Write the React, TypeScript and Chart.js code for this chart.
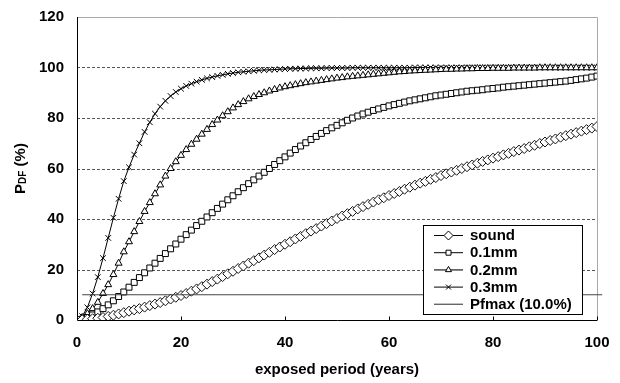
import React, { useEffect, useRef } from "react";
import { Chart, registerables } from "chart.js";

Chart.register(...registerables);

const years = [
  0, 1, 2, 3, 4, 5, 6, 7, 8, 9, 10, 11, 12, 13, 14, 15, 16, 17, 18, 19, 20,
  21, 22, 23, 24, 25, 26, 27, 28, 29, 30, 31, 32, 33, 34, 35, 36, 37, 38, 39, 40,
  41, 42, 43, 44, 45, 46, 47, 48, 49, 50, 51, 52, 53, 54, 55, 56, 57, 58, 59, 60,
  61, 62, 63, 64, 65, 66, 67, 68, 69, 70, 71, 72, 73, 74, 75, 76, 77, 78, 79, 80,
  81, 82, 83, 84, 85, 86, 87, 88, 89, 90, 91, 92, 93, 94, 95, 96, 97, 98, 99, 100,
];

const sound = [
  0, 0.1, 0.3, 0.5, 0.7, 1.0, 1.4, 1.9, 2.4, 2.9, 3.5,
  4.0, 4.5, 5.1, 5.7, 6.3, 6.9, 7.6, 8.3, 9.0, 9.7,
  10.5, 11.4, 12.3, 13.2, 14.2, 15.2, 16.2, 17.2, 18.3, 19.3,
  20.4, 21.4, 22.5, 23.5, 24.6, 25.7, 26.8, 27.9, 28.9, 30.0,
  31.0, 32.1, 33.1, 34.2, 35.2, 36.2, 37.2, 38.2, 39.2, 40.2,
  41.2, 42.1, 43.0, 44.0, 44.9, 45.8, 46.7, 47.6, 48.4, 49.3,
  50.1, 50.9, 51.8, 52.6, 53.4, 54.2, 54.9, 55.7, 56.4, 57.2,
  57.9, 58.6, 59.3, 60.0, 60.7, 61.4, 62.1, 62.8, 63.4, 64.1,
  64.7, 65.4, 66.0, 66.7, 67.3, 67.9, 68.6, 69.2, 69.9, 70.5,
  71.1, 71.7, 72.4, 73.0, 73.6, 74.2, 74.8, 75.4, 76.0, 76.6,
];

const mm01 = [
  0, 0.3, 1.0, 2.0, 3.2, 4.5, 6.0, 7.6, 9.3, 11.1, 13.0,
  14.9, 16.8, 18.7, 20.6, 22.5, 24.4, 26.3, 28.2, 30.1, 32.0,
  33.8, 35.6, 37.4, 39.1, 40.8, 42.5, 44.2, 45.9, 47.6, 49.2,
  50.8, 52.4, 54.0, 55.5, 57.0, 58.5, 60.0, 61.6, 63.1, 64.6,
  66.1, 67.5, 68.9, 70.2, 71.5, 72.7, 73.9, 75.0, 76.1, 77.1,
  78.1, 79.1, 80.0, 80.8, 81.6, 82.3, 83.0, 83.6, 84.2, 84.8,
  85.3, 85.8, 86.3, 86.8, 87.2, 87.6, 88.0, 88.4, 88.8, 89.1,
  89.4, 89.7, 90.0, 90.3, 90.6, 90.8, 91.0, 91.2, 91.5, 91.7,
  91.9, 92.2, 92.4, 92.6, 92.8, 93.0, 93.2, 93.4, 93.6, 93.8,
  94.0, 94.2, 94.4, 94.6, 94.9, 95.2, 95.5, 95.8, 96.2, 96.6,
];

const mm02 = [
  0, 1.0, 2.5, 4.5, 7.0, 10.5, 14.0, 18.0, 22.5, 27.0, 31.0,
  35.0, 39.0, 43.0, 46.5, 50.0, 53.5, 57.0, 60.0, 62.7, 65.2,
  67.5, 69.6, 71.6, 73.6, 75.5, 77.4, 79.2, 80.9, 82.5, 84.0,
  85.3, 86.5, 87.6, 88.5, 89.3, 90.0, 90.7, 91.3, 91.9, 92.4,
  92.8, 93.2, 93.6, 94.0, 94.3, 94.6, 94.9, 95.2, 95.5, 95.8,
  96.0, 96.3, 96.5, 96.7, 96.9, 97.1, 97.3, 97.5, 97.7, 97.9,
  98.1, 98.3, 98.4, 98.6, 98.7, 98.8, 98.9, 99.0, 99.1, 99.2,
  99.3, 99.3, 99.4, 99.4, 99.5, 99.5, 99.6, 99.6, 99.6, 99.7,
  99.7, 99.7, 99.7, 99.8, 99.8, 99.8, 99.8, 99.8, 99.9, 99.9,
  99.9, 99.9, 99.9, 99.9, 99.9, 99.9, 99.9, 99.9, 99.9, 99.9,
];

const mm03 = [
  0, 1.5, 5.0, 10.5, 17.0, 24.5, 32.5, 40.5, 48.0, 55.0, 60.5,
  65.5, 70.0, 74.5, 78.3, 81.7, 84.5, 86.8, 88.7, 90.3, 91.6,
  92.7, 93.6, 94.4, 95.1, 95.7, 96.2, 96.7, 97.1, 97.5, 97.8,
  98.1, 98.3, 98.5, 98.7, 98.9, 99.0, 99.1, 99.2, 99.3, 99.4,
  99.5, 99.5, 99.6, 99.6, 99.7, 99.7, 99.7, 99.8, 99.8, 99.8,
  99.8, 99.8, 99.9, 99.9, 99.9, 99.9, 99.9, 99.9, 99.9, 99.9,
  99.9, 99.9, 99.9, 99.9, 100, 100, 100, 100, 100, 100,
  100, 100, 100, 100, 100, 100, 100, 100, 100, 100,
  100, 100, 100, 100, 100, 100, 100, 100, 100, 100,
  100, 100, 100, 100, 100, 100, 100, 100, 100, 100,
];

const pfmaxX = [1, 101];
const pfmaxY = [10, 10];

const seriesLabels = ["sound", "0.1mm", "0.2mm", "0.3mm", "Pfmax (10.0%)"];
const xTicks = [0, 20, 40, 60, 80, 100];
const yTicks = [0, 20, 40, 60, 80, 100, 120];
const xTitle = "exposed period (years)";
const yTitleMain = "P";
const yTitleSub = "DF";
const yTitleRest = " (%)";

const FONT = '"Liberation Sans", Arial, sans-serif';

function drawMarker(ctx: CanvasRenderingContext2D, style: string, x: number, y: number) {
  ctx.save();
  ctx.lineWidth = 1;
  ctx.strokeStyle = "#000";
  ctx.fillStyle = "#fff";
  ctx.beginPath();
  if (style === "diamond") {
    const r = 4.5;
    ctx.moveTo(x, y - r);
    ctx.lineTo(x + r, y);
    ctx.lineTo(x, y + r);
    ctx.lineTo(x - r, y);
    ctx.closePath();
    ctx.fill();
    ctx.stroke();
  } else if (style === "square") {
    const h = 2.5;
    ctx.rect(x - h, y - h, 2 * h, 2 * h);
    ctx.fill();
    ctx.stroke();
  } else if (style === "triangle") {
    const r = 3.5;
    ctx.moveTo(x, y - r);
    ctx.lineTo(x + r * 0.866, y + r * 0.5);
    ctx.lineTo(x - r * 0.866, y + r * 0.5);
    ctx.closePath();
    ctx.fill();
    ctx.stroke();
  } else if (style === "cross") {
    const h = 2.5;
    ctx.moveTo(x - h, y - h);
    ctx.lineTo(x + h, y + h);
    ctx.moveTo(x + h, y - h);
    ctx.lineTo(x - h, y + h);
    ctx.stroke();
  }
  ctx.restore();
}

const framePlugin = {
  id: "framePlugin",
  beforeDatasetsDraw(chart: any) {
    const { ctx, chartArea, scales } = chart;
    const { left, right, top, bottom } = chartArea;
    ctx.save();
    ctx.strokeStyle = "#555";
    ctx.lineWidth = 1;
    ctx.setLineDash([3, 2]);
    yTicks.forEach((v) => {
      if (v === 0 || v === 120) return;
      const py = Math.round(scales.y.getPixelForValue(v)) + 0.5;
      ctx.beginPath();
      ctx.moveTo(left, py);
      ctx.lineTo(right, py);
      ctx.stroke();
    });
    ctx.setLineDash([]);
    ctx.strokeStyle = "#a8a8a8";
    ctx.beginPath();
    ctx.moveTo(left, Math.round(top) + 0.5);
    ctx.lineTo(Math.round(right) + 0.5, Math.round(top) + 0.5);
    ctx.lineTo(Math.round(right) + 0.5, bottom);
    ctx.stroke();

    // tick labels
    ctx.fillStyle = "#000";
    ctx.font = `bold 15px ${FONT}`;
    ctx.textBaseline = "middle";
    ctx.textAlign = "right";
    yTicks.forEach((v) => {
      ctx.fillText(String(v), left - 13, scales.y.getPixelForValue(v));
    });
    ctx.textAlign = "center";
    xTicks.forEach((v) => {
      ctx.fillText(String(v), scales.x.getPixelForValue(v), bottom + 23);
    });
    ctx.restore();
  },
  afterDatasetsDraw(chart: any) {
    const { ctx, chartArea, scales } = chart;
    const { left, right, top, bottom } = chartArea;
    ctx.save();
    ctx.strokeStyle = "#000";
    ctx.lineWidth = 1;
    ctx.beginPath();
    const lx = Math.round(left) + 0.5;
    const by = Math.round(bottom) + 0.5;
    ctx.moveTo(lx, top);
    ctx.lineTo(lx, by);
    ctx.lineTo(right, by);
    ctx.stroke();
    xTicks.forEach((v) => {
      if (v === 0) return;
      const px = Math.round(scales.x.getPixelForValue(v)) + 0.5;
      ctx.beginPath();
      ctx.moveTo(px, by);
      ctx.lineTo(px, by - 4);
      ctx.stroke();
    });

    // legend
    const bx = 423.5, byy = 225.5, bw = 159, bh = 89;
    ctx.fillStyle = "#fff";
    ctx.fillRect(bx, byy, bw, bh);
    ctx.strokeStyle = "#000";
    ctx.strokeRect(bx, byy, bw, bh);
    const styles = ["diamond", "square", "triangle", "cross", "none"];
    const lineColors = ["#000", "#000", "#555", "#000", "#666"];
    const lineWidths = [1, 1, 1.6, 1, 1.4];
    seriesLabels.forEach((lab, i) => {
      const yy = 235.5 + i * 17.2;
      ctx.strokeStyle = lineColors[i];
      ctx.lineWidth = lineWidths[i];
      ctx.beginPath();
      ctx.moveTo(434, yy);
      ctx.lineTo(463, yy);
      ctx.stroke();
      if (styles[i] !== "none") drawMarker(ctx, styles[i], 448.5, yy);
      ctx.fillStyle = "#000";
      ctx.font = `bold 15px ${FONT}`;
      ctx.textAlign = "left";
      ctx.textBaseline = "middle";
      ctx.fillText(lab, 470, yy + 0.5);
    });

    // x title
    ctx.fillStyle = "#000";
    ctx.font = `bold 15px ${FONT}`;
    ctx.textAlign = "center";
    ctx.textBaseline = "middle";
    ctx.fillText(xTitle, (left + right) / 2, 370);

    // y title with subscript
    ctx.save();
    ctx.translate(25, (top + bottom) / 2);
    ctx.rotate(-Math.PI / 2);
    ctx.textAlign = "left";
    ctx.textBaseline = "alphabetic";
    ctx.font = `bold 15px ${FONT}`;
    const wP = ctx.measureText(yTitleMain).width;
    const wR = ctx.measureText(yTitleRest).width;
    ctx.font = `bold 10px ${FONT}`;
    const wS = ctx.measureText(yTitleSub).width;
    const total = wP + wS + wR;
    let sx = -total / 2;
    ctx.font = `bold 15px ${FONT}`;
    ctx.fillText(yTitleMain, sx, 0);
    sx += wP;
    ctx.font = `bold 10px ${FONT}`;
    ctx.fillText(yTitleSub, sx, 0.5);
    sx += wS;
    ctx.font = `bold 15px ${FONT}`;
    ctx.fillText(yTitleRest, sx, 0);
    ctx.restore();

    ctx.restore();
  },
};

export default function App() {
  const ref = useRef<HTMLCanvasElement | null>(null);
  useEffect(() => {
    document.body.style.margin = "0";
    const canvas = ref.current;
    if (!canvas) return;
    const toXY = (arr: number[]) => years.map((x, i) => ({ x, y: arr[i] }));
    const common = {
      borderColor: "#000",
      borderWidth: 1,
      pointBorderColor: "#000",
      pointBackgroundColor: "#fff",
      pointBorderWidth: 1,
      tension: 0,
      fill: false,
    };
    const chart = new Chart(canvas, {
      type: "line",
      data: {
        datasets: [
          {
            ...common,
            label: seriesLabels[4],
            data: pfmaxX.map((x, i) => ({ x, y: pfmaxY[i] })),
            borderColor: "#444",
            borderWidth: 1.2,
            pointRadius: 0,
            clip: false as any,
          },
          { ...common, label: seriesLabels[0], data: toXY(sound), pointStyle: "rectRot", pointRadius: 5, pointBorderColor: "#111" },
          { ...common, label: seriesLabels[1], data: toXY(mm01), pointStyle: "rect", pointRadius: 4.2 },
          { ...common, label: seriesLabels[2], data: toXY(mm02), pointStyle: "triangle", pointRadius: 4 },
          { ...common, label: seriesLabels[3], data: toXY(mm03), pointStyle: "crossRot", pointRadius: 4 },
        ] as any,
      },
      options: {
        animation: false,
        responsive: false,
        devicePixelRatio: 1,
        layout: { autoPadding: false, padding: { top: 17, right: 23, left: 0, bottom: 0 } },
        plugins: { legend: { display: false }, tooltip: { enabled: false } },
        scales: {
          x: {
            type: "linear",
            min: 0,
            max: 100,
            ticks: { display: false },
            grid: { display: false },
            border: { display: false },
            afterFit: (s: any) => {
              s.height = 63;
            },
          },
          y: {
            type: "linear",
            min: 0,
            max: 120,
            ticks: { display: false },
            grid: { display: false },
            border: { display: false },
            afterFit: (s: any) => {
              s.width = 77;
            },
          },
        },
      } as any,
      plugins: [framePlugin],
    });
    return () => chart.destroy();
  }, []);
  return (
    <canvas
      ref={ref}
      width={620}
      height={383}
      style={{ display: "block", position: "absolute", left: 0, top: 0 }}
    />
  );
}
